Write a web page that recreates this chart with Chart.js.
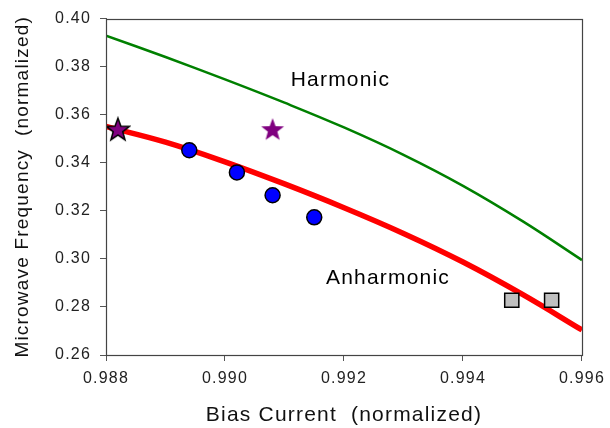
<!DOCTYPE html>
<html>
<head>
<meta charset="utf-8">
<script src="https://cdn.jsdelivr.net/npm/chart.js@4"></script>
<style>
  body { margin: 0; background: #fff; }
  #wrap { width: 610px; height: 428px; }
</style>
</head>
<body>
<div id="wrap"><canvas id="freqChart"></canvas></div>
<script>
// curves (theory)
const curveX = [0.988, 0.989, 0.990, 0.991, 0.992, 0.993, 0.994, 0.995, 0.996];
const harmonicY = [0.3929, 0.3840, 0.3747, 0.3650, 0.3547, 0.3433, 0.3304, 0.3157, 0.2995];
const anharmonicY = [0.3551, 0.3486, 0.3404, 0.3312, 0.3213, 0.3106, 0.2987, 0.2852, 0.2704];

// measured points
const starX = [0.9882, 0.9908];
const starY = [0.3540, 0.3540];
const circleX = [0.9894, 0.9902, 0.9908, 0.9915];
const circleY = [0.3452, 0.3360, 0.3265, 0.3173];
const squareX = [0.99482, 0.99549];
const squareY = [0.2828, 0.2828];

// text labels on the plot
const labelText = ["Harmonic", "Anharmonic"];
const labelX = [0.99194, 0.99274];
const labelY = [0.3742, 0.2920];

const fontFam = "'Liberation Sans', Arial, sans-serif";
Chart.defaults.font.family = fontFam;

function toPoints(xs, ys) {
    return xs.map((x, i) => ({ x: x, y: ys[i] }));
}

function makeStar(withEdge) {
    const c = document.createElement("canvas");
    c.width = 26;
    c.height = 26;
    const g = c.getContext("2d");
    g.beginPath();
    for (let i = 0; i < 10; i++) {
        const r = i % 2 === 0 ? 12 : 5;
        const a = -Math.PI / 2 + i * Math.PI / 5;
        const px = 13 + r * Math.cos(a);
        const py = 14 + r * Math.sin(a);
        if (i === 0) g.moveTo(px, py); else g.lineTo(px, py);
    }
    g.closePath();
    g.fillStyle = "#800080";
    g.fill();
    if (withEdge) {
        g.lineWidth = 1.5;
        g.strokeStyle = "#000";
        g.stroke();
    }
    return c;
}
const starStyles = [makeStar(true), makeStar(false)];

// the old chart's text is a bit wider than Liberation Sans
const spacingPlugin = {
    id: "wideText",
    beforeDraw(chart) {
        chart.ctx.letterSpacing = "1.2px";
    }
};

// frame round the plot area (top and right sides have no axis)
const framePlugin = {
    id: "plotFrame",
    afterDraw(chart) {
        const a = chart.chartArea;
        const ctx = chart.ctx;
        ctx.save();
        ctx.setLineDash([]);
        ctx.globalAlpha = 1;
        ctx.strokeStyle = "#444";
        ctx.lineWidth = 1.2;
        ctx.strokeRect(Math.round(a.left) + 0.5, Math.round(a.top) + 0.5,
            Math.round(a.right - a.left), Math.round(a.bottom - a.top));
        ctx.restore();
    }
};

const labelPlugin = {
    id: "curveLabels",
    afterDatasetsDraw(chart) {
        const ctx = chart.ctx;
        const xs = chart.scales.x, ys = chart.scales.y;
        ctx.save();
        ctx.font = "21px " + fontFam;
        ctx.fillStyle = "#000";
        ctx.textAlign = "center";
        ctx.textBaseline = "middle";
        labelText.forEach((t, i) => {
            ctx.fillText(t, xs.getPixelForValue(labelX[i]), ys.getPixelForValue(labelY[i]));
        });
        ctx.restore();
    }
};

new Chart(document.getElementById("freqChart").getContext("2d"), {
    type: "scatter",
    data: {
        datasets: [
            {
                label: "stars",
                data: toPoints(starX, starY),
                pointStyle: starStyles,
                pointRadius: 12
            },
            {
                label: "circles",
                data: toPoints(circleX, circleY),
                pointStyle: "circle",
                pointRadius: 7.5,
                backgroundColor: "#0000ff",
                borderColor: "#000",
                borderWidth: 1.5
            },
            {
                label: "squares",
                data: toPoints(squareX, squareY),
                pointStyle: "rect",
                pointRadius: 10,
                backgroundColor: "#c0c0c0",
                borderColor: "#000",
                borderWidth: 1.5
            },
            {
                label: "Harmonic",
                data: toPoints(curveX, harmonicY),
                showLine: true,
                pointRadius: 0,
                borderColor: "#008000",
                borderWidth: 2.5,
                tension: 0.4
            },
            {
                label: "Anharmonic",
                data: toPoints(curveX, anharmonicY),
                showLine: true,
                pointRadius: 0,
                borderColor: "#ff0000",
                borderWidth: 5.5,
                tension: 0.4
            }
        ]
    },
    options: {
        responsive: true,
        maintainAspectRatio: false,
        animation: false,
        layout: { padding: { top: 18, right: 23, left: 0, bottom: 0 } },
        plugins: {
            legend: { display: false },
            tooltip: { enabled: false }
        },
        scales: {
            x: {
                type: "linear",
                min: 0.988,
                max: 0.996,
                border: { color: "#555", width: 1 },
                grid: { drawOnChartArea: false, color: "#555", tickLength: 6 },
                ticks: {
                    stepSize: 0.002,
                    padding: 8,
                    maxRotation: 0,
                    color: "#222",
                    font: { size: 16 },
                    callback: v => v.toFixed(3)
                },
                title: {
                    display: true,
                    text: "Bias Current  (normalized)",
                    color: "#111",
                    font: { size: 21 },
                    padding: { top: 0, bottom: 0 }
                },
                afterFit: s => { s.height = 73; }
            },
            y: {
                type: "linear",
                min: 0.26,
                max: 0.40,
                border: { color: "#555", width: 1 },
                grid: { drawOnChartArea: false, color: "#555", tickLength: 6 },
                ticks: {
                    stepSize: 0.02,
                    padding: 9,
                    color: "#222",
                    font: { size: 16 },
                    callback: v => v.toFixed(2)
                },
                title: {
                    display: true,
                    text: "Microwave Frequency  (normalized)",
                    color: "#111",
                    font: { size: 19 },
                    padding: { top: 11, bottom: 0 }
                },
                afterFit: s => { s.width = 106; }
            }
        }
    },
    plugins: [spacingPlugin, framePlugin, labelPlugin]
});
</script>
</body>
</html>
